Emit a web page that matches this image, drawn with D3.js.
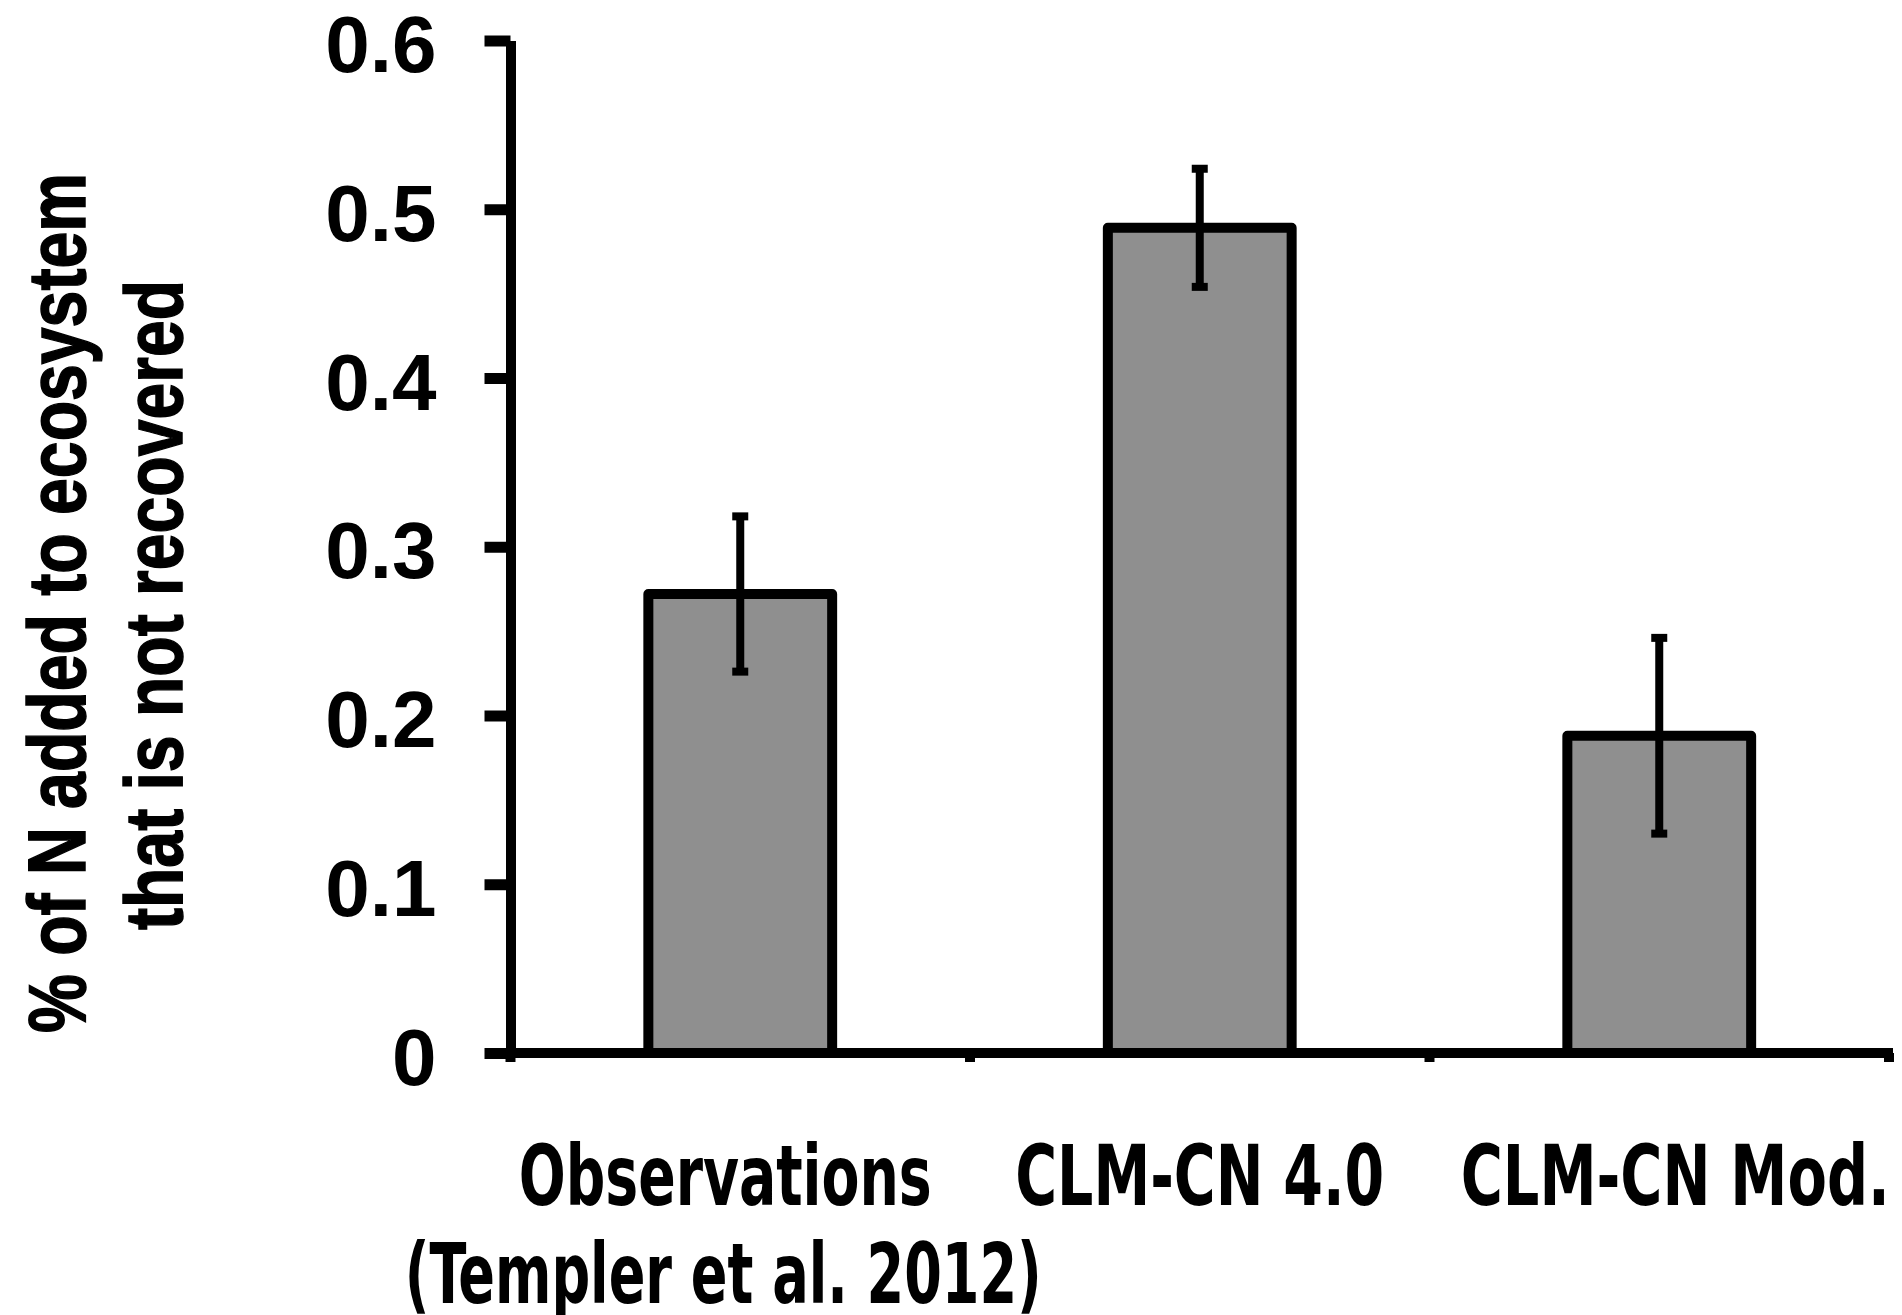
<!DOCTYPE html>
<html>
<head>
<meta charset="utf-8">
<script src="https://cdn.jsdelivr.net/npm/d3@7"></script>
<style>
    body { margin: 0; background: #ffffff; }
    svg { display: block; }
</style>
</head>
<body>
<div id="chart"></div>
<script>

//data
var categories = ["Observations", "CLM-CN 4.0", "CLM-CN Mod."];
var subLabels = ["(Templer et al. 2012)", "", ""];
var values = [0.272, 0.489, 0.188];
var errors = [0.046, 0.035, 0.058];
var yTicks = [0, 0.1, 0.2, 0.3, 0.4, 0.5, 0.6];
var yTitleLines = ["% of N added to ecosystem", "that is not recovered"];

//Width and height
var w = 1902;
var h = 1315;

//plot area (axis positions) -- note: "top" is reserved on window, so prefix these
var plotLeft = 510.5;
var plotRight = 1889;
var plotTop = 40.5;
var plotBottom = 1053;

var NARROW = "'Liberation Sans Narrow', 'DejaVu Sans Condensed', 'Roboto Condensed', sans-serif";
var WIDE = "'Liberation Sans', Arial, Helvetica, sans-serif";

var svg = d3.select("#chart")
    .append("svg")
    .attr("width", w)
    .attr("height", h);

var x = d3.scaleBand()
    .domain(categories)
    .range([plotLeft, plotRight])
    .paddingInner(0.6)
    .paddingOuter(0.3);

var y = d3.scaleLinear()
    .domain([0, 0.6])
    .range([plotBottom, plotTop]);

var data = categories.map(function (c, i) {
    return { name: c, sub: subLabels[i], value: values[i], err: errors[i] };
});

//bars
svg.append("g")
    .selectAll("rect")
    .data(data)
    .enter()
    .append("rect")
    .attr("x", function (d) { return x(d.name); })
    .attr("y", function (d) { return y(d.value); })
    .attr("width", x.bandwidth())
    .attr("height", function (d) { return y(0) - y(d.value); })
    .style("fill", "#8f8f8f")
    .style("stroke", "#000")
    .style("stroke-width", 10)
    .style("stroke-linejoin", "round");

//error bars
var errG = svg.append("g")
    .selectAll("g")
    .data(data)
    .enter()
    .append("g")
    .attr("transform", function (d) { return "translate(" + (x(d.name) + x.bandwidth() / 2) + ",0)"; });

errG.append("line")
    .attr("x1", 0)
    .attr("x2", 0)
    .attr("y1", function (d) { return y(d.value + d.err); })
    .attr("y2", function (d) { return y(d.value - d.err); })
    .style("stroke", "#000")
    .style("stroke-width", 8);

errG.selectAll("rect.cap")
    .data(function (d) { return [d.value + d.err, d.value - d.err]; })
    .enter()
    .append("rect")
    .attr("class", "cap")
    .attr("x", -8)
    .attr("y", function (v) { return y(v) - 4; })
    .attr("width", 16)
    .attr("height", 8)
    .style("fill", "#000");

//y axis
var yAxis = svg.append("g")
    .attr("transform", "translate(" + plotLeft + ",0)")
    .call(d3.axisLeft(y)
        .tickValues(yTicks)
        .tickSize(26)
        .tickSizeOuter(0)
        .tickPadding(48)
        .tickFormat(function (d) { return d === 0 ? "0" : d3.format(".1f")(d); }));

yAxis.select(".domain")
    .style("stroke", "#000")
    .style("stroke-width", 10);

yAxis.selectAll(".tick line")
    .style("stroke", "#000")
    .style("stroke-width", 11);

yAxis.selectAll(".tick text")
    .attr("dy", null)
    .attr("y", 31)
    .style("font-family", WIDE)
    .style("font-weight", "bold")
    .style("font-size", "80px")
    .style("fill", "#000");

//x axis: line plus small ticks on the category boundaries
var boundaries = d3.range(categories.length + 1).map(function (i) { return plotLeft + i * x.step(); });

svg.append("line")
    .attr("x1", plotLeft)
    .attr("x2", plotRight + 4)
    .attr("y1", plotBottom)
    .attr("y2", plotBottom)
    .style("stroke", "#000")
    .style("stroke-width", 10);

svg.append("g")
    .selectAll("line")
    .data(boundaries)
    .enter()
    .append("line")
    .attr("x1", function (d) { return d; })
    .attr("x2", function (d) { return d; })
    .attr("y1", plotBottom)
    .attr("y2", plotBottom + 9)
    .style("stroke", "#000")
    .style("stroke-width", 10);

//category labels
var labelWidths = [413, 369, 429];
var labelShift = [-15, 0, 16];
var subWidths = [637, 0, 0];
var subShift = [-17, 0, 0];

var labels = svg.append("g")
    .selectAll("g")
    .data(data)
    .enter()
    .append("g")
    .attr("transform", function (d) { return "translate(" + (x(d.name) + x.bandwidth() / 2) + ",0)"; });

labels.append("text")
    .attr("x", function (d, i) { return labelShift[i]; })
    .attr("y", 1205)
    .attr("textLength", function (d, i) { return labelWidths[i]; })
    .attr("lengthAdjust", "spacingAndGlyphs")
    .style("text-anchor", "middle")
    .style("font-family", NARROW)
    .style("font-weight", "bold")
    .style("font-size", "83px")
    .text(function (d) { return d.name; });

labels.filter(function (d) { return d.sub !== ""; })
    .append("text")
    .attr("x", function (d) { return subShift[categories.indexOf(d.name)]; })
    .attr("y", 1303)
    .attr("textLength", function (d) { return subWidths[categories.indexOf(d.name)]; })
    .attr("lengthAdjust", "spacingAndGlyphs")
    .style("text-anchor", "middle")
    .style("font-family", NARROW)
    .style("font-weight", "bold")
    .style("font-size", "83px")
    .text(function (d) { return d.sub; });

//y axis title, two rotated lines (Helvetica-like bold, squeezed to fit, thickened a bit)
var titleX = [85, 182];
var titleY = [603, 605];
var titleLen = [860, 650];

svg.append("g")
    .selectAll("text")
    .data(yTitleLines)
    .enter()
    .append("text")
    .attr("transform", function (d, i) { return "translate(" + titleX[i] + "," + titleY[i] + ") rotate(-90)"; })
    .attr("textLength", function (d, i) { return titleLen[i]; })
    .attr("lengthAdjust", "spacingAndGlyphs")
    .style("text-anchor", "middle")
    .style("font-family", WIDE)
    .style("font-weight", "bold")
    .style("font-size", "82px")
    .style("fill", "#000")
    .style("stroke", "#000")
    .style("stroke-width", 1.5)
    .text(function (d) { return d; });

</script>
</body>
</html>
